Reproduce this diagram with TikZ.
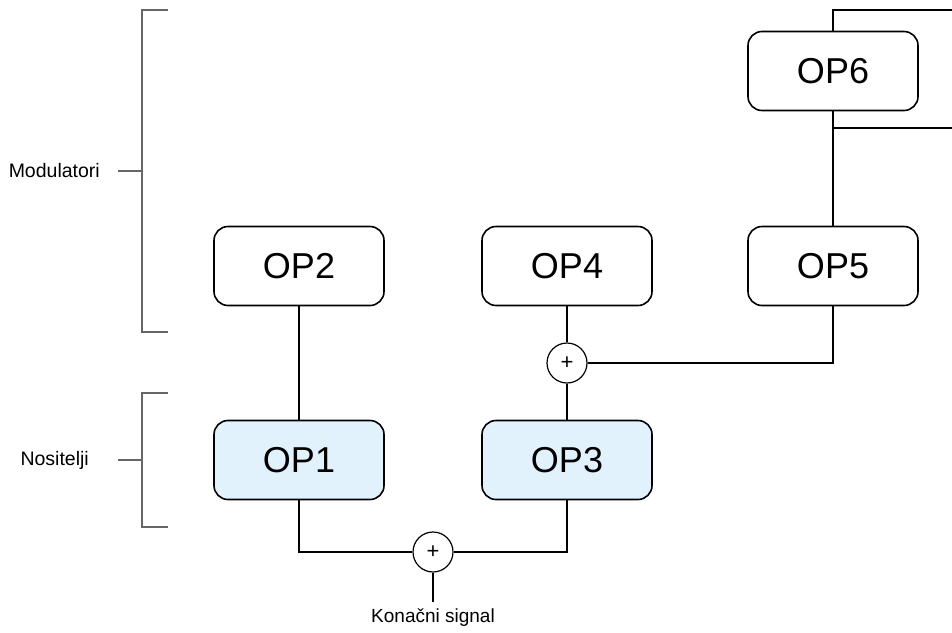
\documentclass[tikz,border=0pt]{standalone}
\usepackage{fontspec}
\setmainfont{Liberation Sans}
\usetikzlibrary{calc}
\definecolor{carrierblue}{HTML}{E1F2FD}
\definecolor{bracegray}{HTML}{666666}

\begin{document}
\begin{tikzpicture}[x=1pt,y=-1pt,
  opbox/.style={draw, line width=1.6pt, rounded corners=14pt, minimum width=170pt, minimum height=79pt, inner sep=0pt, font=\fontsize{36}{40}\selectfont},
  carrier/.style={opbox, fill=carrierblue},
  sumnode/.style={draw, circle, line width=1.2pt, minimum size=40pt, inner sep=0pt, font=\fontsize{22}{24}\selectfont},
  wire/.style={line width=1.5pt},
  brace/.style={draw=bracegray, line width=1.2pt},
  side/.style={anchor=east, inner sep=0pt, font=\fontsize{19.5}{22}\selectfont}]
\useasboundingbox (0,0) rectangle (952,632);

% operatori
\node[opbox] (op6) at (833,71) {OP6};
\node[opbox] (op2) at (299,266) {OP2};
\node[opbox] (op4) at (567,266) {OP4};
\node[opbox] (op5) at (833,266) {OP5};
\node[carrier] (op1) at (299,460) {OP1};
\node[carrier] (op3) at (567,460) {OP3};
\node[sumnode] (sum2) at (567,363) {+};
\node[sumnode] (sum1) at (433,552) {+};

% veze
\draw[wire] (op2) -- (op1);
\draw[wire] (op4) -- (sum2);
\draw[wire] (sum2) -- (op3);
\draw[wire] (sum2) -| (op5);
\draw[wire] (op5) -- (op6);
\draw[wire] (op1) |- (sum1);
\draw[wire] (op3) |- (sum1);

% povratna veza
\coordinate (fbtop) at (953,10);
\coordinate (fbtap) at (833,128);
\coordinate (fbend) at (953,128);
\draw[wire] (op6) |- (fbtop);
\draw[wire] (fbtap) -- (fbend);

% izlaz
\coordinate (outend) at (433,602);
\node[anchor=north, inner sep=0pt, font=\fontsize{19}{22}\selectfont] (out) at (433,608) {Konačni signal};
\draw[wire] (sum1) -- (outend);

% zagrade
\node[side] (modlabel) at (100,171) {Modulatori};
\draw[brace] (168,10) -- (142,10) -- (142,332) -- (168,332);
\draw[brace] ($(modlabel.east)+(18,0)$) -- (142,171);
\node[side] (noslabel) at (89,460) {Nositelji};
\draw[brace] (168,393) -- (142,393) -- (142,527) -- (168,527);
\draw[brace] ($(noslabel.east)+(29,0)$) -- (142,460);
\end{tikzpicture}
\end{document}
